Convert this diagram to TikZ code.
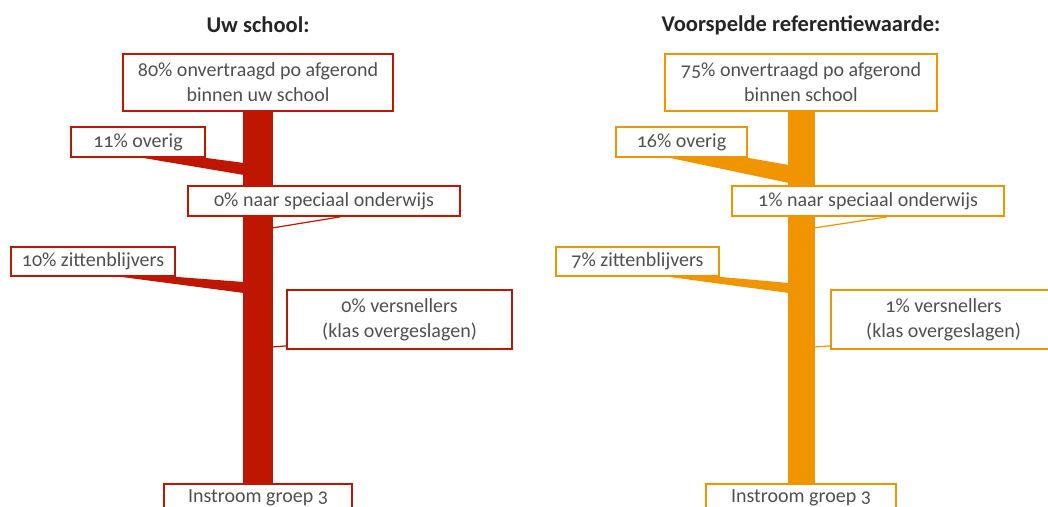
\documentclass[tikz,border=0pt]{standalone}
\usepackage{fontspec}
\setmainfont{Carlito}[Numbers=OldStyle]
\usetikzlibrary{calc,backgrounds}
\definecolor{schoolred}{HTML}{BE1600}
\definecolor{refamber}{HTML}{F09500}
\definecolor{labelgray}{HTML}{505050}

\begin{document}
\begin{tikzpicture}[
  x=1pt, y=-1pt,
  paneltitle/.style={font=\fontsize{22.5}{27}\selectfont\bfseries, text=black!85},
  flowbox/.style={draw, line width=1.8pt, fill=white, inner sep=0pt, align=center,
    font=\fontsize{20}{25}\selectfont, text=labelgray},
  thinflow/.style={line width=1.2pt},
]
  \useasboundingbox (0,0) rectangle (1048,506);
  \clip (0,0) rectangle (1048,506);

  % Panel titles
  \node[paneltitle] (titleA) at (258,25) {Uw school:};
  \node[paneltitle] (titleB) at (801,25) {Voorspelde referentiewaarde:};

  % Boxes, own school
  \node[flowbox, draw=schoolred, minimum width=270, minimum height=57] (topA) at (258,82.5)
    {80\% onvertraagd po afgerond\\binnen uw school};
  \node[flowbox, draw=schoolred, minimum width=134, minimum height=30] (ovA) at (138,142) {11\% overig};
  \node[flowbox, draw=schoolred, minimum width=272, minimum height=30] (spA) at (324,201) {0\% naar speciaal onderwijs};
  \node[flowbox, draw=schoolred, minimum width=164, minimum height=29] (ziA) at (93,261.5) {10\% zittenblijvers};
  \node[flowbox, draw=schoolred, minimum width=225, minimum height=59] (veA) at (399.5,319.5)
    {0\% versnellers\\(klas overgeslagen)};
  \node[flowbox, draw=schoolred, minimum width=188, minimum height=28] (inA) at (258,498) {Instroom groep 3};

  % Boxes, reference value
  \node[flowbox, draw=refamber, minimum width=272, minimum height=57] (topB) at (801,82.5)
    {75\% onvertraagd po afgerond\\binnen school};
  \node[flowbox, draw=refamber, minimum width=131, minimum height=30] (ovB) at (681.5,142) {16\% overig};
  \node[flowbox, draw=refamber, minimum width=272, minimum height=30] (spB) at (868,201) {1\% naar speciaal onderwijs};
  \node[flowbox, draw=refamber, minimum width=163, minimum height=29] (ziB) at (637.5,261.5) {7\% zittenblijvers};
  \node[flowbox, draw=refamber, minimum width=225, minimum height=59] (veB) at (943.5,319.5)
    {1\% versnellers\\(klas overgeslagen)};
  \node[flowbox, draw=refamber, minimum width=190, minimum height=28] (inB) at (801,498) {Instroom groep 3};

  % Points where the flows leave the trunk
  \coordinate (ovA-hi) at (244,163);   \coordinate (ovA-lo) at (244,175);
  \coordinate (ziA-hi) at (244,282);   \coordinate (ziA-lo) at (244,293);
  \coordinate (spA-in) at (272,228);   \coordinate (veA-in) at (272,347);
  \coordinate (ovB-hi) at (789,165);   \coordinate (ovB-lo) at (789,183);
  \coordinate (ziB-hi) at (789,283);   \coordinate (ziB-lo) at (789,293);
  \coordinate (spB-in) at (814,228);   \coordinate (veB-in) at (814,347);

  \begin{scope}[on background layer]
    % Trunks
    \draw[schoolred, line width=30pt] (topA.south) -- (inA.north);
    \draw[refamber, line width=27pt] (topB.south) -- (inB.north);

    % Flows, own school
    \fill[schoolred] ($(ovA.south east)+(-63,0)$) -- (ovA.south east) -- (ovA-hi) -- (ovA-lo) -- cycle;
    \fill[schoolred] ($(ziA.south east)+(-55,0)$) -- (ziA.south east) -- (ziA-hi) -- (ziA-lo) -- cycle;
    \draw[schoolred, thinflow] ($(spA.south)+(16,0)$) -- (spA-in);
    \draw[schoolred, thinflow] ($(veA.south west)+(0,-4)$) -- (veA-in);

    % Flows, reference value
    \fill[refamber] ($(ovB.south east)+(-78,0)$) -- (ovB.south east) -- (ovB-hi) -- (ovB-lo) -- cycle;
    \fill[refamber] ($(ziB.south east)+(-51,0)$) -- (ziB.south east) -- (ziB-hi) -- (ziB-lo) -- cycle;
    \draw[refamber, thinflow] ($(spB.south)+(19,0)$) -- (spB-in);
    \draw[refamber, thinflow] ($(veB.south west)+(0,-4)$) -- (veB-in);
  \end{scope}
\end{tikzpicture}
\end{document}
